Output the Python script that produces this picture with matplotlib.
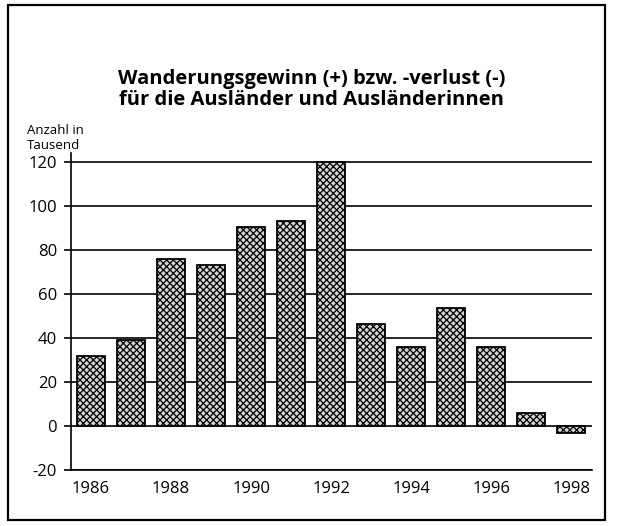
#Bar chart of net migration for foreigners, 1986-1998

import matplotlib.pyplot as plt
from matplotlib.patches import Rectangle

#Data
years = [1986, 1987, 1988, 1989, 1990, 1991, 1992, 1993, 1994, 1995, 1996, 1997, 1998]
values = [32, 39, 76, 73, 90.5, 93, 120, 46.5, 36, 53.5, 36, 6, -3]
y_ticks = [-20, 0, 20, 40, 60, 80, 100, 120]
x_ticks = [1986, 1988, 1990, 1992, 1994, 1996, 1998]

plt.rcParams['font.family'] = ['Open Sans', 'DejaVu Sans']
plt.rcParams['axes.unicode_minus'] = False
plt.rcParams['hatch.color'] = '#3c3c3c'
plt.rcParams['hatch.linewidth'] = 0.9

fig = plt.figure(figsize=(6.23, 5.26), dpi=100)

#Outer frame
fig.patches.append(Rectangle((0.013, 0.012), 0.958, 0.978, transform=fig.transFigure,
                             fill=False, edgecolor='black', linewidth=1.6))

ax = fig.add_axes([0.114, 0.1065, 0.836, 0.6025])

#Bars
ax.bar(years, values, width=0.68, facecolor='#d4d4d4', edgecolor='black',
       linewidth=1.3, hatch='xxxxx', zorder=3)

#Axes styling
ax.set_xlim(1985.5, 1998.52)
ax.set_ylim(-20, 124)
ax.set_yticks(y_ticks)
ax.set_xticks(x_ticks)
ax.tick_params(axis='y', length=5, width=1.2, labelsize=12, pad=5)
ax.tick_params(axis='x', length=0, labelsize=12, pad=8)
ax.grid(axis='y', color='black', linewidth=1.2, zorder=0)
for side in ['top', 'right']:
    ax.spines[side].set_visible(False)
ax.spines['left'].set_linewidth(1.2)
ax.spines['bottom'].set_linewidth(1.2)

#Titles
fig.text(0.5, 0.83, "Wanderungsgewinn (+) bzw. -verlust (-)\nfür die Ausländer und Ausländerinnen",
         ha='center', va='center', fontsize=14.5, fontweight='bold', linespacing=1.05)
fig.text(0.043, 0.738, "Anzahl in\nTausend", ha='left', va='center', fontsize=9.5,
         linespacing=1.25)

fig.savefig('out.png', dpi=100)
